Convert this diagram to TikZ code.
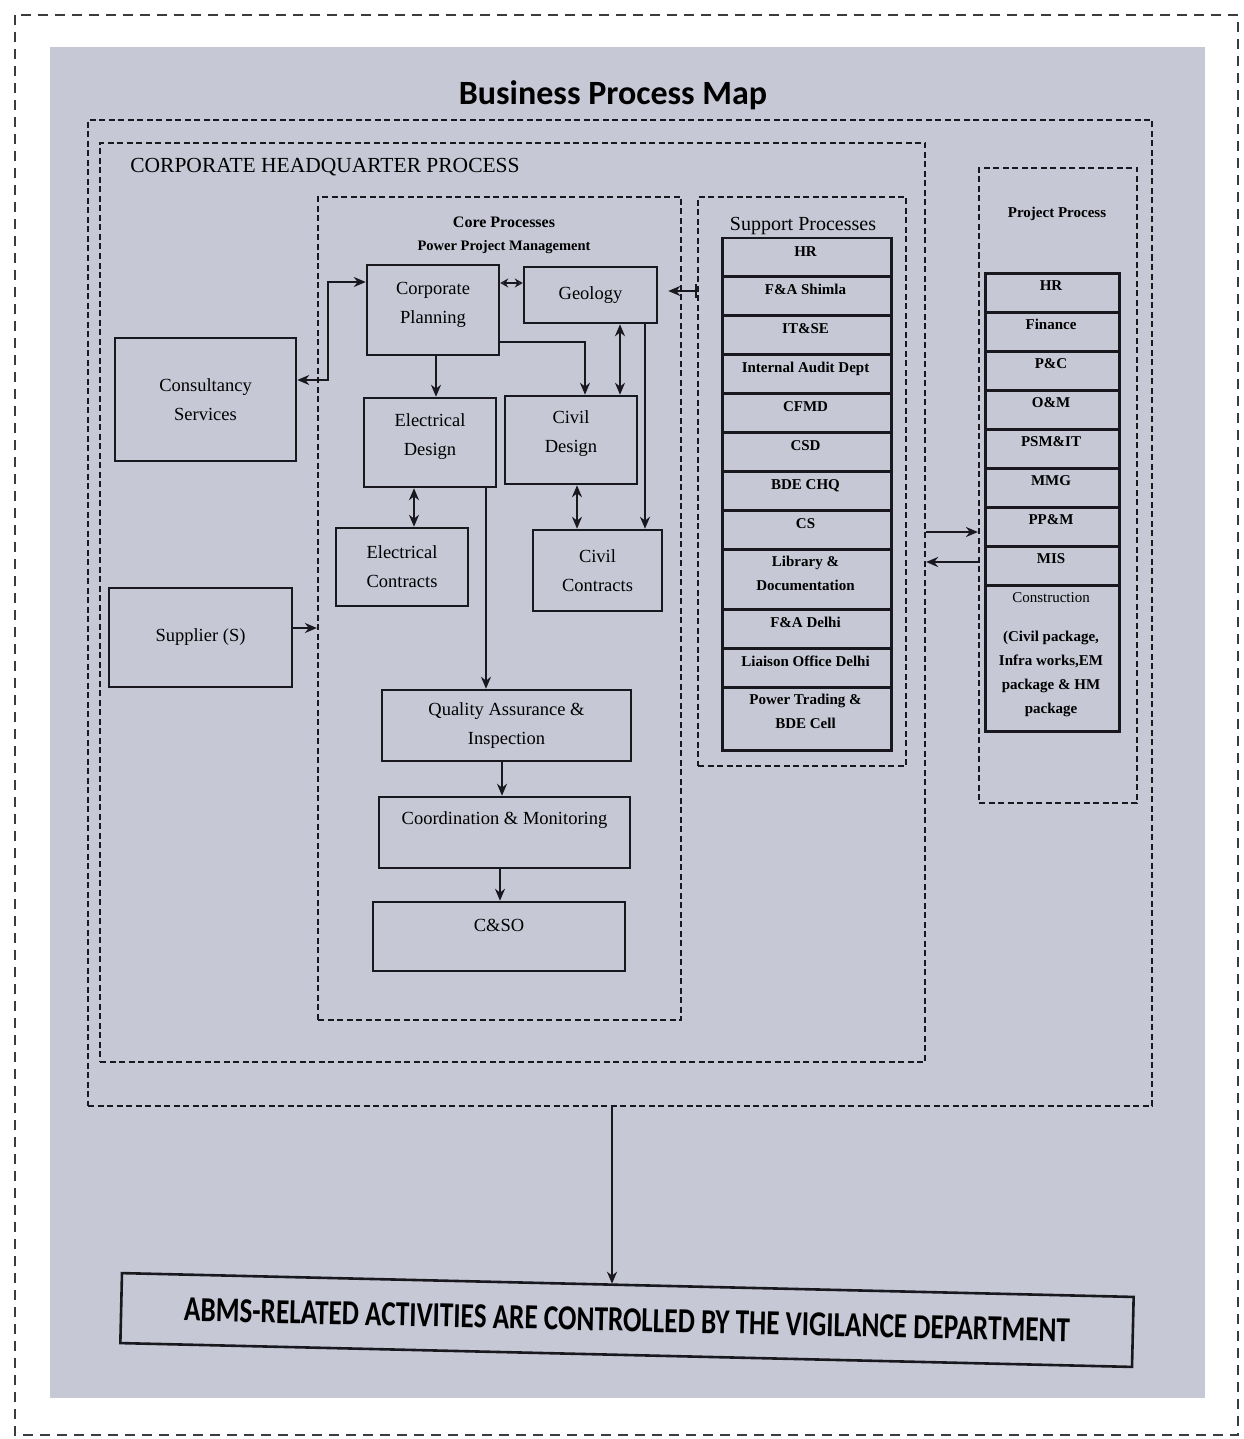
\documentclass[tikz,border=0pt]{standalone}
\usepackage{graphicx}
\usepackage{fontspec}
\setmainfont{Liberation Serif}
\newfontfamily\titlefont{Carlito}
\usetikzlibrary{arrows.meta,calc}
\definecolor{panel}{RGB}{198,200,213}
\definecolor{ink}{RGB}{24,24,30}
\begin{document}
\begin{tikzpicture}[x=1pt,y=-1pt,
  box/.style={draw=ink,line width=2.5pt,fill=panel,inner sep=2pt,align=center,font=\fontsize{18.5}{29}\selectfont},
  dbox/.style={draw=ink,line width=2.2pt,dash pattern=on 6pt off 3.5pt,inner sep=0pt},
  srow/.style={draw=ink,line width=2.5pt,anchor=north west,inner sep=0pt,minimum width=169pt},
  prow/.style={draw=ink,line width=2.5pt,anchor=north west,inner sep=0pt,minimum width=134pt},
  rowtxt/.style={anchor=north,inner sep=0pt,align=center,font=\bfseries\fontsize{15}{24}\selectfont},
  arr/.style={draw=ink,line width=2.3pt,-{Stealth[length=12pt,width=10pt]}},
  darr/.style={draw=ink,line width=2.3pt,{Stealth[length=12pt,width=10pt]}-{Stealth[length=12pt,width=10pt]}},
  sdarr/.style={draw=ink,line width=2.3pt,{Stealth[open,length=8pt,width=9pt]}-{Stealth[open,length=8pt,width=9pt]}}
]
\useasboundingbox (0,0) rectangle (1243,1439);
\fill[white] (0,0) rectangle (1243,1439);
\draw[ink!85,line width=1.8pt,dash pattern=on 10pt off 7pt] (15,15) rectangle (1238,1435);
\fill[panel] (50,47) rectangle (1205,1398);

% dashed containers
\node[dbox,minimum width=1064pt,minimum height=986pt] (ob) at (620,613) {};
\node[dbox,minimum width=825pt,minimum height=919pt] (cb) at (512.5,602.5) {};
\node[dbox,minimum width=363pt,minimum height=823pt] (core) at (499.5,608.5) {};
\node[dbox,minimum width=208pt,minimum height=569pt] (sp) at (802,481.5) {};
\node[dbox,minimum width=158pt,minimum height=635pt] (pp) at (1058,485.5) {};

% titles
\node[anchor=base,inner sep=0pt,font=\titlefont\bfseries\fontsize{34}{40}\selectfont] (title) at (613,105) {Business Process Map};
\node[anchor=base,inner sep=0pt,font=\fontsize{21.5}{26}\selectfont] (chq) at (325,173) {CORPORATE HEADQUARTER PROCESS};
\node[anchor=base,inner sep=0pt,font=\bfseries\fontsize{16}{20}\selectfont] (coret) at (504,227.5) {Core Processes};
\node[anchor=base,inner sep=0pt,font=\bfseries\fontsize{14.5}{18}\selectfont] (ppm) at (504,251) {Power Project Management};
\node[anchor=base,inner sep=0pt,font=\fontsize{20}{24}\selectfont] (spt) at (803,231) {Support Processes};
\node[anchor=base,inner sep=0pt,font=\bfseries\fontsize{15}{18}\selectfont] (ppt) at (1057,218) {Project Process};

% core process boxes
\node[box,minimum width=132pt,minimum height=90pt,text depth=15pt] (cp) at (433,310) {Corporate\\Planning};
\node[box,minimum width=133pt,minimum height=56pt] (geo) at (590.5,295) {Geology};
\node[box,minimum width=132pt,minimum height=89pt,text depth=16pt] (ed) at (430,442.5) {Electrical\\Design};
\node[box,minimum width=132pt,minimum height=88pt,text depth=17pt] (cd) at (571,440) {Civil\\Design};
\node[box,minimum width=132pt,minimum height=78pt] (ec) at (402,567) {Electrical\\Contracts};
\node[box,minimum width=129pt,minimum height=81pt] (cc) at (597.5,570.5) {Civil\\Contracts};
\node[box,minimum width=249pt,minimum height=71pt] (qa) at (506.5,725.5) {Quality Assurance \&\\Inspection};
\node[box,minimum width=251pt,minimum height=71pt,text depth=28pt] (cm) at (504.5,832.5) {Coordination \& Monitoring};
\node[box,minimum width=252pt,minimum height=69pt,text depth=22pt] (cso) at (499,936.5) {C\&SO};
\node[box,minimum width=181pt,minimum height=123pt] (cons) at (205.5,399.5) {Consultancy\\Services};
\node[box,minimum width=183pt,minimum height=99pt] (sup) at (200.5,637.5) {Supplier (S)};

% support processes list
\node[srow,minimum height=38pt] (s1) at (721,237) {};
\node[rowtxt] (s1t) at (805.5,246) {HR};
\node[srow,minimum height=39pt] (s2) at (721,275) {};
\node[rowtxt] (s2t) at (805.5,284) {F\&A Shimla};
\node[srow,minimum height=39pt] (s3) at (721,314) {};
\node[rowtxt] (s3t) at (805.5,323) {IT\&SE};
\node[srow,minimum height=39pt] (s4) at (721,353) {};
\node[rowtxt] (s4t) at (805.5,362) {Internal Audit Dept};
\node[srow,minimum height=39pt] (s5) at (721,392) {};
\node[rowtxt] (s5t) at (805.5,401) {CFMD};
\node[srow,minimum height=39pt] (s6) at (721,431) {};
\node[rowtxt] (s6t) at (805.5,440) {CSD};
\node[srow,minimum height=39pt] (s7) at (721,470) {};
\node[rowtxt] (s7t) at (805.5,479) {BDE CHQ};
\node[srow,minimum height=39pt] (s8) at (721,509) {};
\node[rowtxt] (s8t) at (805.5,518) {CS};
\node[srow,minimum height=60pt] (s9) at (721,548) {};
\node[rowtxt] (s9t) at (805.5,556) {Library \&\\Documentation};
\node[srow,minimum height=39pt] (s10) at (721,608) {};
\node[rowtxt] (s10t) at (805.5,617) {F\&A Delhi};
\node[srow,minimum height=39pt] (s11) at (721,647) {};
\node[rowtxt] (s11t) at (805.5,656) {Liaison Office Delhi};
\node[srow,minimum height=63pt] (s12) at (721,686) {};
\node[rowtxt] (s12t) at (805.5,694) {Power Trading \&\\BDE Cell};

% project process list
\node[prow,minimum height=39pt] (p1) at (984,272) {};
\node[rowtxt] (p1t) at (1051,280) {HR};
\node[prow,minimum height=39pt] (p2) at (984,311) {};
\node[rowtxt] (p2t) at (1051,319) {Finance};
\node[prow,minimum height=39pt] (p3) at (984,350) {};
\node[rowtxt] (p3t) at (1051,358) {P\&C};
\node[prow,minimum height=39pt] (p4) at (984,389) {};
\node[rowtxt] (p4t) at (1051,397) {O\&M};
\node[prow,minimum height=39pt] (p5) at (984,428) {};
\node[rowtxt] (p5t) at (1051,436) {PSM\&IT};
\node[prow,minimum height=39pt] (p6) at (984,467) {};
\node[rowtxt] (p6t) at (1051,475) {MMG};
\node[prow,minimum height=39pt] (p7) at (984,506) {};
\node[rowtxt] (p7t) at (1051,514) {PP\&M};
\node[prow,minimum height=39pt] (p8) at (984,545) {};
\node[rowtxt] (p8t) at (1051,553) {MIS};
\node[prow,minimum height=146pt] (p9) at (984,584) {};
\node[rowtxt] (p9t) at (1051,592) {\mdseries Construction\\[15pt](Civil package,\\Infra works,EM\\package \& HM\\package};

% bottom statement
\node[draw=ink,line width=2.6pt,fill=panel,minimum width=1012pt,minimum height=70pt,inner sep=0pt,rotate=-1.35] (abms) at (627,1320)
  {\resizebox{886pt}{23pt}{\titlefont\bfseries ABMS-RELATED ACTIVITIES ARE CONTROLLED BY THE VIGILANCE DEPARTMENT}};

% helper coordinates
\coordinate (jc) at (328,380);
\coordinate (jt) at (328,282);
\coordinate (sa) at (0,628);
\coordinate (cg) at (0,283);
\coordinate (k0) at (436,0);
\coordinate (k1) at (585,342);
\coordinate (k2) at (620,0);
\coordinate (k3) at (645,0);
\coordinate (k4) at (414,0);
\coordinate (k5) at (577,0);
\coordinate (k6) at (486,0);
\coordinate (k7) at (502,0);
\coordinate (k8) at (500,0);
\coordinate (k9) at (0,291);
\coordinate (k10) at (0,532);
\coordinate (k11) at (0,562);
\coordinate (k12) at (612,0);

% connectors
\draw[darr] (cons.east |- jc) -- (jc) -- (jt) -- (cp.west |- jt);
\draw[arr] (sup.east |- sa) -- (core.west |- sa);
\draw[sdarr] (cp.east |- cg) -- (geo.west |- cg);
\draw[arr] (cp.south -| k0) -- (ed.north -| k0);
\draw[arr] (cp.east |- k1) -- (k1) -- (cd.north -| k1);
\draw[darr] (geo.south -| k2) -- (cd.north -| k2);
\draw[arr] (geo.south -| k3) -- (cc.north -| k3);
\draw[darr] (ed.south -| k4) -- (ec.north -| k4);
\draw[darr] (cd.south -| k5) -- (cc.north -| k5);
\draw[arr] (ed.south -| k6) -- (qa.north -| k6);
\draw[arr] (qa.south -| k7) -- (cm.north -| k7);
\draw[arr] (cm.south -| k8) -- (cso.north -| k8);
\draw[draw=ink,line width=2.3pt,{Bar[width=14pt]}-{Stealth[length=12pt,width=10pt]},shorten >=10pt] (sp.west |- k9) -- (geo.east |- k9);
\draw[arr] (cb.east |- k10) -- (pp.west |- k10);
\draw[arr] (pp.west |- k11) -- (cb.east |- k11);
\draw[arr] (ob.south -| k12) -- (abms.north -| k12);
\end{tikzpicture}
\end{document}
